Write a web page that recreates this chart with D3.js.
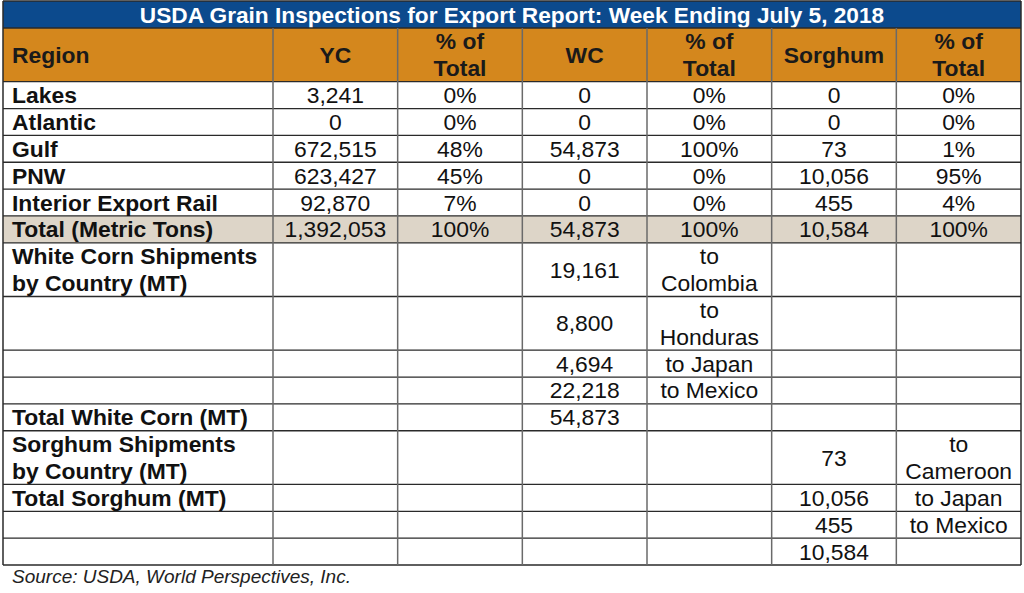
<!DOCTYPE html>
<html>
<head>
<meta charset="utf-8">
<script src="https://cdn.jsdelivr.net/npm/d3@7/dist/d3.min.js"></script>
<style>
  html, body { margin: 0; padding: 0; background: #ffffff; }
  svg { display: block; }
  text { font-family: "Liberation Sans", Arial, sans-serif; }
</style>
</head>
<body>
<svg id="chart" width="1024" height="593"></svg>
<script>
// ---------------- DATA ----------------
const title = "USDA Grain Inspections for Export Report: Week Ending July 5, 2018";
const source = "Source: USDA, World Perspectives, Inc.";
const columns = ["Region", "YC", "% of Total", "WC", "% of Total", "Sorghum", "% of Total"];

const regions = ["Lakes", "Atlantic", "Gulf", "PNW", "Interior Export Rail", "Total (Metric Tons)"];
const ycTons = [3241, 0, 672515, 623427, 92870, 1392053];
const ycShare = [0, 0, 48, 45, 7, 100];
const wcTons = [0, 0, 54873, 0, 0, 54873];
const wcShare = [0, 0, 100, 0, 0, 100];
const sorghumTons = [0, 0, 73, 10056, 455, 10584];
const sorghumShare = [0, 0, 1, 95, 4, 100];

const wcLabel = "White Corn Shipments by Country (MT)";
const wcDestinations = ["Colombia", "Honduras", "Japan", "Mexico"];
const wcShipments = [19161, 8800, 4694, 22218];
const wcTotalLabel = "Total White Corn (MT)";
const wcTotal = 54873;

const sorghumLabel = "Sorghum Shipments by Country (MT)";
const sorghumDestinations = ["Cameroon", "Japan", "Mexico"];
const sorghumShipments = [73, 10056, 455];
const sorghumTotalLabel = "Total Sorghum (MT)";
const sorghumTotal = 10584;

// ---------------- LAYOUT ----------------
const left = 3, right = 1021, firstColRight = 273;
const titleTop = 1, tableTop = 28, tableBottom = 565;
const fontSize = 22;
const stretch = 1.04;
const lineGap = 27;

const svg = d3.select("#chart");
const fmt = d3.format(",");
const pct = d => d + "%";

// helper to measure text width
const measurer = svg.append("text").attr("font-size", fontSize).attr("visibility", "hidden");
function textWidth(s, bold) {
  measurer.attr("font-weight", bold ? "bold" : "normal").text(s);
  return measurer.node().getComputedTextLength() * stretch;
}

// x scale for the 6 numeric columns
const nCols = columns.length;
const xCol = d3.scaleLinear().domain([1, nCols]).range([firstColRight, right]);
const colLeft = i => i === 0 ? left : xCol(i);
const colRight = i => i === 0 ? firstColRight : xCol(i + 1);

// wrap a label into lines that fit a cell
function wrapLines(s, maxW, bold) {
  if (textWidth(s, bold) <= maxW) return [s];
  const words = s.split(" ");
  const lines = [];
  let cur = "";
  words.forEach(w => {
    const t = cur ? cur + " " + w : w;
    if (cur && textWidth(t, bold) > maxW) { lines.push(cur); cur = w; }
    else cur = t;
  });
  if (cur) lines.push(cur);
  return lines;
}
// row labels break before "by"
const labelLines = s => s.split(/ (?=by )/);

// build rows: each row = {units, bg, cells[7]} ; cell = {lines, bold}
const rows = [];
const empty = () => d3.range(nCols).map(() => null);

// header
{
  const cells = columns.map((c, i) => ({ lines: i === 0 ? [c] : wrapLines(c, 70, true), bold: true }));
  rows.push({ units: 2, bg: "#D4871D", cells, header: true });
}
// region rows
regions.forEach((r, i) => {
  const isTotal = i === regions.length - 1;
  rows.push({
    units: 1,
    bg: isTotal ? "#DDD5C8" : null,
    cells: [
      { lines: [r], bold: true },
      { lines: [fmt(ycTons[i])] }, { lines: [pct(ycShare[i])] },
      { lines: [fmt(wcTons[i])] }, { lines: [pct(wcShare[i])] },
      { lines: [fmt(sorghumTons[i])] }, { lines: [pct(sorghumShare[i])] }
    ]
  });
});
// white corn shipments by country
const destW = colRight(4) - colLeft(4) - 16;
wcDestinations.forEach((d, i) => {
  const cells = empty();
  if (i === 0) cells[0] = { lines: labelLines(wcLabel), bold: true };
  cells[3] = { lines: [fmt(wcShipments[i])] };
  cells[4] = { lines: wrapLines("to " + d, destW, false) };
  const units = d3.max(cells, c => c ? c.lines.length : 1);
  rows.push({ units, cells });
});
{
  const cells = empty();
  cells[0] = { lines: [wcTotalLabel], bold: true };
  cells[3] = { lines: [fmt(wcTotal)] };
  rows.push({ units: 1, cells });
}
// sorghum shipments by country (as laid out in the source table)
const sorghumCol = [...sorghumShipments, sorghumTotal];
const sorghumLeft = [labelLines(sorghumLabel), [sorghumTotalLabel], null, null];
sorghumCol.forEach((v, i) => {
  const cells = empty();
  if (sorghumLeft[i]) cells[0] = { lines: sorghumLeft[i], bold: true };
  cells[5] = { lines: [fmt(v)] };
  if (i < sorghumDestinations.length)
    cells[6] = { lines: wrapLines("to " + sorghumDestinations[i], destW, false) };
  const units = d3.max(cells, c => c ? c.lines.length : 1);
  rows.push({ units, cells });
});

// y scale over cumulative units
const totalUnits = d3.sum(rows, r => r.units);
const yUnit = d3.scaleLinear().domain([0, totalUnits]).range([tableTop, tableBottom]);
let acc = 0;
rows.forEach(r => { r.y0 = yUnit(acc); acc += r.units; r.y1 = yUnit(acc); });

// ---------------- DRAW ----------------
// title bar
svg.append("rect").attr("x", left).attr("y", titleTop).attr("width", right - left).attr("height", tableTop - titleTop)
  .attr("fill", "#0C4A8D");
svg.append("text")
  .attr("transform", `translate(${(left + right) / 2},23) scale(${stretch},1)`)
  .attr("text-anchor", "middle").attr("font-weight", "bold").attr("font-size", 21.8)
  .attr("fill", "#ffffff").text(title);

// row backgrounds
svg.append("g").selectAll("rect").data(rows.filter(r => r.bg)).join("rect")
  .attr("x", left).attr("y", d => d.y0).attr("width", right - left).attr("height", d => d.y1 - d.y0)
  .attr("fill", d => d.bg);

// grid lines
const grid = svg.append("g");
grid.selectAll("line.h").data([tableTop, ...rows.map(r => r.y1)]).join("line")
  .attr("class", "h").attr("x1", left).attr("x2", right).attr("y1", d => d).attr("y2", d => d)
  .attr("stroke", "#2a2a2a").attr("stroke-width", 1.3);
grid.selectAll("line.v").data(d3.range(nCols + 1)).join("line")
  .attr("class", "v")
  .attr("x1", i => i === nCols ? right : colLeft(i)).attr("x2", i => i === nCols ? right : colLeft(i))
  .attr("y1", i => (i === 0 || i === nCols) ? titleTop : tableTop).attr("y2", tableBottom)
  .attr("stroke", i => (i === 0 || i === nCols) ? "#2a2a2a" : "#6a6a6a").attr("stroke-width", 1.5);
svg.append("line").attr("x1", left).attr("x2", right).attr("y1", titleTop).attr("y2", titleTop)
  .attr("stroke", "#2a2a2a").attr("stroke-width", 1.3);

// cell texts
const cellData = [];
rows.forEach(r => r.cells.forEach((c, i) => {
  if (!c) return;
  const cy = (r.y0 + r.y1) / 2;
  const n = c.lines.length;
  c.lines.forEach((line, k) => {
    cellData.push({
      text: line,
      x: i === 0 ? colLeft(0) + 9 : (colLeft(i) + colRight(i)) / 2,
      y: cy + 8 + (k - (n - 1) / 2) * lineGap,
      anchor: i === 0 ? "start" : "middle",
      bold: !!c.bold,
      color: r.header ? "#1a1a1a" : "#111111"
    });
  });
}));
svg.append("g").selectAll("text").data(cellData).join("text")
  .attr("transform", d => `translate(${d.x},${d.y}) scale(${stretch},1)`)
  .attr("text-anchor", d => d.anchor)
  .attr("font-size", fontSize)
  .attr("font-weight", d => d.bold ? "bold" : "normal")
  .attr("fill", d => d.color)
  .text(d => d.text);

// source note
svg.append("text").attr("x", 12).attr("y", 583).attr("font-size", 19).attr("font-style", "italic")
  .attr("fill", "#222").text(source);

measurer.remove();
</script>
</body>
</html>
